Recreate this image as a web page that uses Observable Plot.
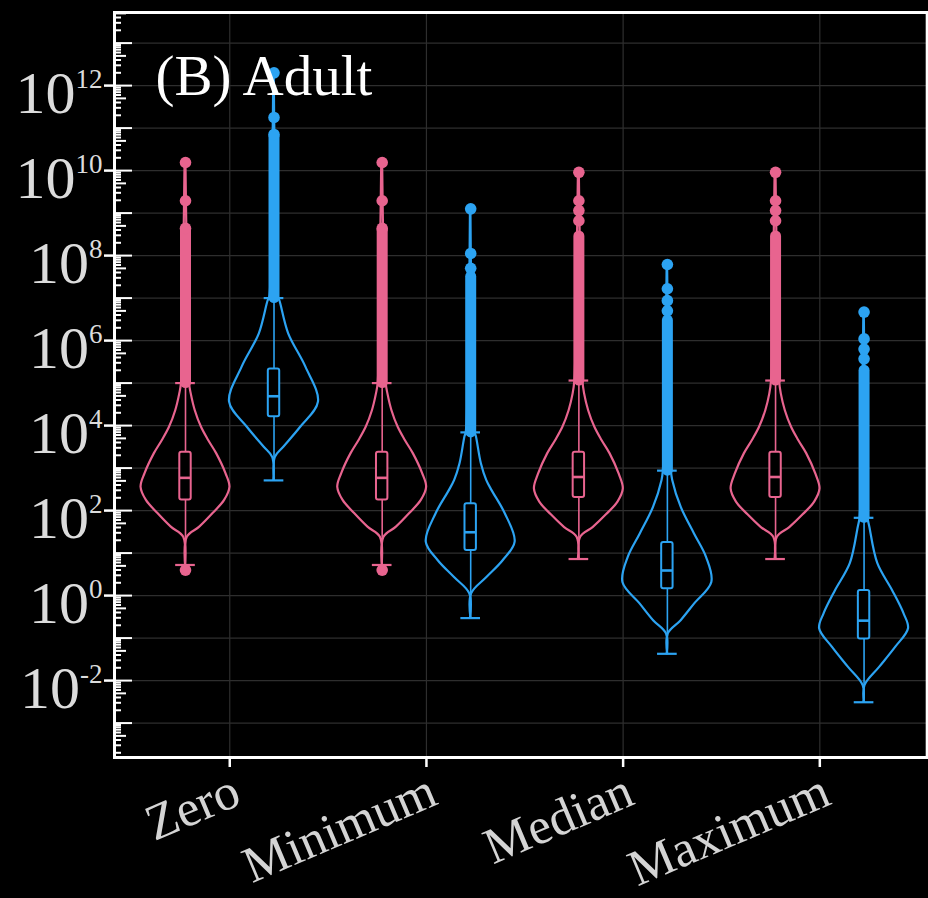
<!DOCTYPE html>
<html><head><meta charset="utf-8">
<script src="https://cdn.jsdelivr.net/npm/d3@7"></script>
<script src="https://cdn.jsdelivr.net/npm/@observablehq/plot@0.6"></script>
<style>html,body{margin:0;padding:0;background:#000;} svg{display:block}</style>
</head><body><div id="chart"></div>
<script>
// ---------- data (values are log10 of the plotted quantity) ----------
const categories = ["Zero", "Minimum", "Median", "Maximum"];
const seriesNames = ["Group 1", "Group 2"];
const seriesColors = ["#E8648F", "#2CA3F2"];

const pinkQ1 = [2.25, 2.25, 2.31, 2.31];
const pinkMedian = [2.77, 2.77, 2.79, 2.79];
const pinkQ3 = [3.37, 3.37, 3.37, 3.37];
const pinkWhiskerLow = [0.72, 0.72, 0.86, 0.86];
const pinkWhiskerHigh = [5.0, 5.0, 5.06, 5.06];

const blueQ1 = [4.21, 1.06, 0.16, -1.02];
const blueMedian = [4.69, 1.49, 0.59, -0.59];
const blueQ3 = [5.33, 2.16, 1.25, 0.12];
const blueWhiskerLow = [2.71, -0.53, -1.37, -2.51];
const blueWhiskerHigh = [7.0, 3.84, 2.94, 1.83];

// isolated outliers
const pinkOutliers = [[10.19, 9.29, 8.64, 0.6], [10.19, 9.29, 8.64, 0.6], [9.96, 9.29, 9.06, 8.82], [9.96, 9.29, 9.06, 8.82]];
const blueOutliers = [[12.3, 11.25, 10.85], [9.1, 8.05, 7.7], [7.79, 7.22, 6.94, 6.7], [6.67, 6.04, 5.8, 5.57]];
// ranges so crowded with outliers that they form a solid column
const pinkDense = [[5.0, 8.6], [5.0, 8.6], [5.06, 8.45], [5.06, 8.45]];
const blueDense = [[7.0, 10.8], [3.84, 7.5], [2.94, 6.47], [1.83, 5.29]];

// violin profiles: [log10 value, relative density]
const pinkViolin = [
  [[10.19,0.01],[8.6,0.03],[5.0,0.09],[4.74,0.13],[4.35,0.22],[3.96,0.36],[3.65,0.52],[3.34,0.70],[2.87,0.91],[2.55,1.0],[2.24,0.88],[1.93,0.62],[1.61,0.32],[1.37,0.04],[0.6,0.01]],
  [[10.19,0.01],[8.6,0.03],[5.0,0.09],[4.74,0.13],[4.35,0.22],[3.96,0.36],[3.65,0.52],[3.34,0.70],[2.87,0.91],[2.55,1.0],[2.24,0.88],[1.93,0.62],[1.61,0.32],[1.37,0.04],[0.6,0.01]],
  [[9.96,0.01],[8.45,0.03],[5.06,0.09],[4.74,0.13],[4.35,0.22],[3.96,0.36],[3.65,0.52],[3.34,0.70],[2.85,0.91],[2.51,1.0],[2.2,0.88],[1.9,0.62],[1.6,0.32],[1.37,0.04],[0.86,0.01]],
  [[9.96,0.01],[8.45,0.03],[5.06,0.09],[4.74,0.13],[4.35,0.22],[3.96,0.36],[3.65,0.52],[3.34,0.70],[2.85,0.91],[2.51,1.0],[2.2,0.88],[1.9,0.62],[1.6,0.32],[1.37,0.04],[0.86,0.01]]
];
const blueViolin = [
  [[12.3,0.005],[10.8,0.02],[7.0,0.10],[6.94,0.13],[6.16,0.33],[5.37,0.72],[4.55,1.0],[3.96,0.6],[3.49,0.22],[3.25,0.03],[2.71,0.005]],
  [[9.1,0.005],[7.5,0.02],[3.84,0.10],[3.73,0.13],[3.1,0.24],[2.71,0.36],[2.47,0.48],[1.92,0.78],[1.26,1.0],[0.82,0.73],[0.43,0.37],[0.04,0.02],[-0.53,0.005]],
  [[7.79,0.005],[6.47,0.02],[2.94,0.09],[2.71,0.12],[2.08,0.31],[1.45,0.61],[0.9,0.88],[0.31,1.0],[-0.2,0.61],[-0.59,0.31],[-0.9,0.02],[-1.37,0.005]],
  [[6.67,0.005],[5.29,0.02],[1.83,0.09],[1.61,0.13],[0.75,0.31],[0.12,0.64],[-0.43,0.9],[-0.78,1.0],[-1.22,0.71],[-1.69,0.35],[-2.12,0.02],[-2.51,0.005]]
];

const yTickExponents = [-2, 0, 2, 4, 6, 8, 10, 12];

// ---------- tables ----------
const dodge = 0.225, halfW = 0.226, boxHalf = 0.029, capHalf = 0.05;
const seriesData = [
  {name: seriesNames[0], q1: pinkQ1, med: pinkMedian, q3: pinkQ3, lo: pinkWhiskerLow, hi: pinkWhiskerHigh, out: pinkOutliers, dense: pinkDense, violin: pinkViolin, off: -dodge},
  {name: seriesNames[1], q1: blueQ1, med: blueMedian, q3: blueQ3, lo: blueWhiskerLow, hi: blueWhiskerHigh, out: blueOutliers, dense: blueDense, violin: blueViolin, off: dodge}
];
const boxes = [], violinPts = [], outPts = [], denseRows = [];
for (const s of seriesData) {
  categories.forEach((c, i) => {
    const cx = i + 1 + s.off;
    boxes.push({series: s.name, cx, q1: 10 ** s.q1[i], med: 10 ** s.med[i], q3: 10 ** s.q3[i], lo: 10 ** s.lo[i], hi: 10 ** s.hi[i]});
    s.violin[i].forEach(([L, d]) => violinPts.push({series: s.name, key: s.name + c, cx, y: 10 ** L, d}));
    s.out[i].forEach(L => outPts.push({series: s.name, cx, y: 10 ** L}));
    denseRows.push({series: s.name, cx, y1: 10 ** s.dense[i][0], y2: 10 ** s.dense[i][1]});
  });
}

const pow = k => 10 ** k;
const lo = 10 ** -3.81, hi = 10 ** 13.72;
const allDecades = d3.range(-3, 14).map(pow);
const fives = d3.range(-4, 14).map(k => 5 * 10 ** k).filter(v => v > lo && v < hi);
const others = [];
for (let k = -4; k < 14; k++) for (const m of [2, 3, 4, 6, 7, 8, 9]) { const v = m * 10 ** k; if (v > lo && v < hi) others.push(v); }

const serif = "Liberation Serif, Times New Roman, serif";
const grid = "#2e2e2e";

const chart = Plot.plot({
  width: 928, height: 898,
  marginLeft: 114, marginRight: 1.3, marginTop: 12, marginBottom: 141,
  style: {background: "black", color: "white"},
  x: {domain: [0.414, 4.546], label: null},
  y: {type: "log", domain: [lo, hi], label: null},
  color: {domain: seriesNames, range: seriesColors},
  marks: [
    Plot.gridY(allDecades, {stroke: grid, strokeOpacity: 1, strokeWidth: 1.2}),
    Plot.gridX([1, 2, 3, 4], {stroke: grid, strokeOpacity: 1, strokeWidth: 1.2}),
    Plot.areaX(violinPts, {y: "y", x1: d => d.cx - d.d * halfW, x2: d => d.cx + d.d * halfW, z: "key", stroke: "series", fill: "none", strokeWidth: 2.2, curve: "catmull-rom"}),
    Plot.ruleX(boxes, {x: "cx", y1: "q3", y2: "hi", stroke: "series", strokeWidth: 1.6}),
    Plot.ruleX(boxes, {x: "cx", y1: "q1", y2: "lo", stroke: "series", strokeWidth: 1.6}),
    Plot.ruleY(boxes, {y: "hi", x1: d => d.cx - capHalf, x2: d => d.cx + capHalf, stroke: "series", strokeWidth: 2.2}),
    Plot.ruleY(boxes, {y: "lo", x1: d => d.cx - capHalf, x2: d => d.cx + capHalf, stroke: "series", strokeWidth: 2.2}),
    Plot.rect(boxes, {x1: d => d.cx - boxHalf, x2: d => d.cx + boxHalf, y1: "q1", y2: "q3", fill: "black", stroke: "series", strokeWidth: 2, rx: 2}),
    Plot.ruleY(boxes, {y: "med", x1: d => d.cx - boxHalf, x2: d => d.cx + boxHalf, stroke: "series", strokeWidth: 2.6}),
    Plot.ruleX(denseRows, {x: "cx", y1: "y1", y2: "y2", stroke: "series", strokeWidth: 11, strokeLinecap: "round"}),
    Plot.dot(outPts, {x: "cx", y: "y", r: 5.8, fill: "series", stroke: "none"}),
    // log ticks inside the panel
    Plot.axisY(allDecades, {tickSize: -18, tickFormat: () => "", stroke: "white", strokeWidth: 2, label: null}),
    Plot.axisY(fives, {tickSize: -12, tickFormat: () => "", stroke: "white", strokeWidth: 2, label: null}),
    Plot.axisY(others, {tickSize: -7, tickFormat: () => "", stroke: "white", strokeWidth: 2, label: null}),
    // labelled ticks
    Plot.axisY(yTickExponents.map(pow), {tickSize: 10, tickPadding: 2, tickFormat: v => "10^" + Math.round(Math.log10(v)), stroke: "white", strokeWidth: 2.5, fill: "#dcdcdc", fontSize: 60, fontFamily: serif, label: null}),
    Plot.axisX([1, 2, 3, 4], {tickFormat: () => "", tickSize: 10, stroke: "white", strokeWidth: 2.5, label: null}),
    Plot.axisX([1, 2, 3, 4], {tickFormat: i => categories[i - 1], tickSize: 0, tickPadding: 31, tickRotate: -23, dx: 7, stroke: "none", fill: "#d4d4d4", fontSize: 51, fontFamily: serif, label: null}),
    Plot.frame({stroke: "white", strokeWidth: 3}),
    Plot.text(["(B) Adult"], {text: d => d, frameAnchor: "top-left", textAnchor: "start", dx: 41, dy: 42, fontSize: 57, fontFamily: serif, fill: "white"})
  ]
});

// superscript exponents on the y tick labels
const ns = "http://www.w3.org/2000/svg";
chart.querySelectorAll('g[aria-label="y-axis tick label"] text').forEach(t => {
  const s = t.textContent;
  if (!s.includes("^")) return;
  const [base, exp] = s.split("^");
  t.textContent = "";
  t.setAttribute("dy", "8");
  const a = document.createElementNS(ns, "tspan"); a.textContent = base;
  const b = document.createElementNS(ns, "tspan"); b.textContent = exp;
  b.setAttribute("dy", "-25"); b.setAttribute("font-size", "27");
  t.append(a, b);
});
document.getElementById("chart").append(chart);
</script></body></html>
